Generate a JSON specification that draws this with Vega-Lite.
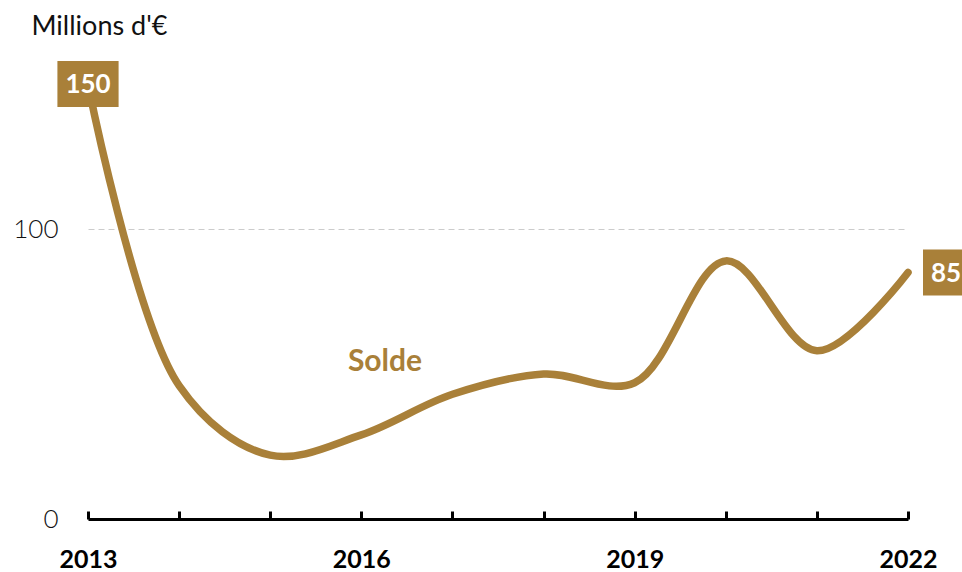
{
  "$schema": "https://vega.github.io/schema/vega-lite/v6.json",
  "width": 820,
  "height": 435,
  "autosize": "none",
  "padding": {"left": 88, "top": 84, "right": 54, "bottom": 53},
  "background": "white",
  "config": {
    "view": {"stroke": null},
    "font": "Lato"
  },
  "datasets": {
    "serie": [
      {"annee": 2013, "solde": 150},
      {"annee": 2014, "solde": 46},
      {"annee": 2015, "solde": 22},
      {"annee": 2016, "solde": 29},
      {"annee": 2017, "solde": 43},
      {"annee": 2018, "solde": 50},
      {"annee": 2019, "solde": 47},
      {"annee": 2020, "solde": 89},
      {"annee": 2021, "solde": 58},
      {"annee": 2022, "solde": 85}
    ],
    "annot": [
      {"annee": 2016.26, "solde": 54, "texte": "Solde"}
    ]
  },
  "data": {"name": "serie"},
  "encoding": {
    "x": {
      "field": "annee",
      "type": "quantitative",
      "scale": {"domain": [2013, 2022], "zero": false, "nice": false},
      "axis": {
        "title": null,
        "values": [2013, 2014, 2015, 2016, 2017, 2018, 2019, 2020, 2021, 2022],
        "format": "d",
        "labelExpr": "(datum.value - 2013) % 3 == 0 ? datum.label : ''",
        "grid": false,
        "domainColor": "#000000",
        "domainWidth": 3,
        "tickColor": "#000000",
        "tickWidth": 3,
        "tickSize": -8,
        "labelPadding": 56,
        "labelFont": "Lato",
        "labelFontSize": 25,
        "labelFontWeight": "bold",
        "labelColor": "#000000",
        "labelBaseline": "alphabetic",
        "labelAlign": "center",
        "labelFlush": false,
        "labelBound": false,
        "labelOverlap": false
      }
    },
    "y": {
      "field": "solde",
      "type": "quantitative",
      "scale": {"domain": [0, 150], "nice": false},
      "axis": {
        "title": "Millions d'€",
        "titleAngle": 0,
        "titleAlign": "left",
        "titleBaseline": "middle",
        "titleX": -57,
        "titleY": -58,
        "titleFont": "Lato",
        "titleFontSize": 27,
        "titleFontWeight": "normal",
        "titleColor": "#111111",
        "values": [0, 100],
        "domain": false,
        "ticks": false,
        "labelPadding": 30,
        "labelFont": "Lato",
        "labelFontSize": 26,
        "labelFontWeight": 300,
        "labelColor": "#111111",
        "grid": true,
        "gridColor": "#cccccc",
        "gridDash": [6, 4],
        "gridWidth": 1
      }
    }
  },
  "layer": [
    {
      "mark": {"type": "line", "interpolate": "catmull-rom", "color": "#A98039", "strokeWidth": 7.5, "strokeCap": "round"}
    },
    {
      "transform": [{"filter": "datum.annee == 2013"}],
      "mark": {"type": "point", "shape": "M-1.33,-1H1.33V1H-1.33Z", "size": 2116, "filled": true, "color": "#A98039", "opacity": 1}
    },
    {
      "transform": [{"filter": "datum.annee == 2013"}],
      "mark": {"type": "text", "color": "#ffffff", "font": "Lato", "fontSize": 26, "fontWeight": "bold", "align": "center", "baseline": "middle", "dy": 1},
      "encoding": {"text": {"field": "solde", "type": "quantitative"}}
    },
    {
      "transform": [{"filter": "datum.annee == 2022"}],
      "mark": {"type": "point", "shape": "square", "size": 2116, "filled": true, "color": "#A98039", "opacity": 1, "xOffset": 38}
    },
    {
      "transform": [{"filter": "datum.annee == 2022"}],
      "mark": {"type": "text", "color": "#ffffff", "font": "Lato", "fontSize": 26, "fontWeight": "bold", "align": "center", "baseline": "middle", "dy": 1, "dx": 38},
      "encoding": {"text": {"field": "solde", "type": "quantitative"}}
    },
    {
      "data": {"name": "annot"},
      "mark": {"type": "text", "color": "#A98039", "font": "Lato", "fontSize": 30, "fontWeight": "bold", "align": "center", "baseline": "middle"},
      "encoding": {"text": {"field": "texte", "type": "nominal"}}
    }
  ]
}
